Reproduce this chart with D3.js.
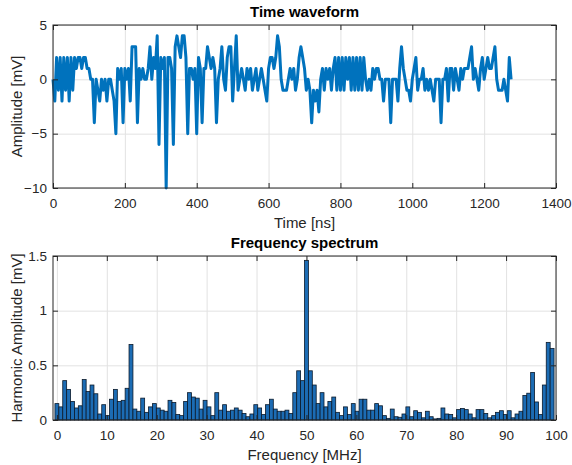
<!DOCTYPE html>
<html>
<head>
<meta charset="utf-8">
<script src="https://cdn.jsdelivr.net/npm/d3@7/dist/d3.min.js"></script>
<style>
  body { margin: 0; background: #fff; }
  svg { font-family: "Liberation Sans", Arial, sans-serif; }
  .axis path { display: none; }
  .axis line { stroke: #262626; }
  .axis text { fill: #262626; font-size: 13.5px; }
  .grid line { stroke: #e2e2e2; }
  .grid path { display: none; }
</style>
</head>
<body>
<svg width="572" height="465"></svg>
<script>
// time waveform, one sample every 5 ns (mV)
var dt = 5;
var samples = [
  0, -2, 2, -1, 2, -2, 2, -1, 2, -2,
  2, -1, 2, 1, 2, 2, 1, 2, 2, 1,
  1, 0, 0, -4, 0, -1, -2, 0, -1, 0,
  -2, 0, 0, -1, -2, -5, 1, 0, 1, -4,
  1, 0, 1, -2, 3, 3, 3, -4, 1, 0,
  1, 0, 0, 1, 3, 0, 2, 1, 4, -6,
  2, 1, 2, -10, 2, 2, 1, -6, 3, 4,
  3, 2, 4, 4, 2, -5, 1, 1, 0, 1,
  -5, 2, 1, -4, 1, 1, 3, 2, 1, 2,
  1, -4, 0, 1, 3, 0, -1, 2, 3, 3,
  -2, 1, 4, -1, 0, 1, 0, -1, 1, 0,
  1, -1, 0, 1, -1, 0, 1, 0, -1, -2,
  1, 2, 2, 1, 2, 4, 3, 0, -1, -1,
  -1, 0, 1, 0, 1, -1, 0, 2, 3, 2,
  1, -1, 0, -1, -4, -1, -2, -1, -3, 0,
  1, -1, 1, 0, 1, -1, 1, 2, -1, 2,
  -1, 2, -1, 2, 0, 2, -1, 2, -1, 2,
  -1, 2, -1, 2, 0, -1, 0, -1, 1, 0,
  1, 1, 0, 0, -2, 0, 0, 0, -4, 0,
  0, 0, -2, 1, 3, 1, 0, -1, -1, -2,
  0, 1, 2, -1, 0, 0, 1, -1, 0, -1,
  0, -1, -2, 0, 0, 0, -4, 0, 0, 1,
  -2, 1, 1, -1, 1, 0, -1, 1, 0, 1,
  1, 1, 2, 3, 0, 1, 0, -1, 1, 2,
  0, 1, 2, 1, 1, 2, 3, 0, -1, -1,
  -1, 0, -1, -2, 2, 0
];

// harmonic amplitudes, one bin every 0.78125 MHz (mV)
var df = 0.78125;
var spectrum = [
  0.15, 0.12, 0.36, 0.28, 0.17, 0.11, 0.13, 0.37, 0.26, 0.32,
  0.24, 0.055, 0.14, 0.04, 0.19, 0.28, 0.17, 0.18, 0.29, 0.69,
  0.10, 0.08, 0.20, 0.07, 0.12, 0.15, 0.11, 0.09, 0.08, 0.18,
  0.16, 0.05, 0.04, 0.17, 0.25, 0.21, 0.20, 0.10, 0.18, 0.12,
  0.04, 0.25, 0.09, 0.14, 0.08, 0.09, 0.11, 0.09, 0.06, 0.03,
  0.055, 0.14, 0.11, 0.05, 0.14, 0.19, 0.10, 0.08, 0.08, 0.09,
  0.06, 0.25, 0.45, 0.36, 1.46, 0.45, 0.32, 0.15, 0.25, 0.12,
  0.17, 0.21, 0.07, 0.04, 0.12, 0.05, 0.15, 0.08, 0.19, 0.19,
  0.09, 0.09, 0.15, 0.13, 0.04, 0.015, 0.10, 0.03, 0.025, 0.055,
  0.12, 0.03, 0.085, 0.07, 0.02, 0.08, 0.03, 0.01, 0.015, 0.11,
  0.055, 0.05, 0.02, 0.095, 0.105, 0.095, 0.055, 0.02, 0.095, 0.095,
  0.06, 0.02, 0.04, 0.07, 0.085, 0.05, 0.085, 0.02, 0.055, 0.08,
  0.225, 0.245, 0.435, 0.165, 0.05, 0.32, 0.71, 0.655
];

var timeTicks = [0, 200, 400, 600, 800, 1000, 1200, 1400];
var ampTicks = [-10, -5, 0, 5];
var freqTicks = [0, 10, 20, 30, 40, 50, 60, 70, 80, 90, 100];
var harmTicks = [0, 0.5, 1, 1.5];

var svg = d3.select('svg');
var left = 53, right = 556;

function panel(x, y, xTicks, yTicks, title, xLabel, yLabel) {
  var top = y.range()[1], bottom = y.range()[0];
  var g = svg.append('g');

  g.append('g').attr('class', 'grid')
    .attr('transform', `translate(0,${bottom})`)
    .call(d3.axisBottom(x).tickValues(xTicks).tickSize(-(bottom - top)).tickFormat(''));
  g.append('g').attr('class', 'grid')
    .attr('transform', `translate(${left},0)`)
    .call(d3.axisLeft(y).tickValues(yTicks).tickSize(-(right - left)).tickFormat(''));

  var plot = g.append('g');

  g.append('g').attr('class', 'axis')
    .attr('transform', `translate(0,${bottom})`)
    .call(d3.axisBottom(x).tickValues(xTicks).tickSizeInner(-5).tickSizeOuter(0).tickPadding(10).tickFormat(d3.format('')));
  g.append('g').attr('class', 'axis')
    .attr('transform', `translate(0,${top})`)
    .call(d3.axisTop(x).tickValues(xTicks).tickSizeInner(-5).tickSizeOuter(0).tickFormat(''));
  g.append('g').attr('class', 'axis')
    .attr('transform', `translate(${left},0)`)
    .call(d3.axisLeft(y).tickValues(yTicks).tickSizeInner(-5).tickSizeOuter(0).tickPadding(6).tickFormat(d3.format('')));
  g.append('g').attr('class', 'axis')
    .attr('transform', `translate(${right},0)`)
    .call(d3.axisRight(y).tickValues(yTicks).tickSizeInner(-5).tickSizeOuter(0).tickFormat(''));

  g.append('rect')
    .attr('x', left).attr('y', top)
    .attr('width', right - left).attr('height', bottom - top)
    .attr('fill', 'none').attr('stroke', '#262626').attr('stroke-width', 1);

  g.append('text')
    .attr('x', (left + right) / 2).attr('y', top - 8)
    .attr('text-anchor', 'middle')
    .attr('font-size', 15).attr('font-weight', 'bold').attr('fill', '#000')
    .text(title);
  g.append('text')
    .attr('x', (left + right) / 2).attr('y', bottom + 40)
    .attr('text-anchor', 'middle')
    .attr('font-size', 15).attr('fill', '#262626')
    .text(xLabel);
  g.append('text')
    .attr('transform', `translate(22,${(top + bottom) / 2}) rotate(-90)`)
    .attr('text-anchor', 'middle')
    .attr('font-size', 15).attr('fill', '#262626')
    .text(yLabel);

  return plot;
}

// top: time waveform
var xt = d3.scaleLinear().domain([0, 1400]).range([left, right]);
var yt = d3.scaleLinear().domain([-10, 5]).range([188, 25]);
var p1 = panel(xt, yt, timeTicks, ampTicks, 'Time waveform', 'Time [ns]', 'Amplitude [mV]');

p1.append('path')
  .datum(samples)
  .attr('fill', 'none')
  .attr('stroke', '#0072BD')
  .attr('stroke-width', 3)
  .attr('stroke-linejoin', 'round')
  .attr('d', d3.line().x((d, i) => xt(i * dt)).y(d => yt(d)));

// bottom: frequency spectrum
var xf = d3.scaleLinear().domain([-df, 100]).range([left, right]);
var yf = d3.scaleLinear().domain([0, 1.5]).range([420, 256]);
var p2 = panel(xf, yf, freqTicks, harmTicks, 'Frequency spectrum', 'Frequency [MHz]', 'Harmonic Amplitude [mV]');

var bw = xf(df) - xf(0);
p2.selectAll('rect')
  .data(spectrum)
  .enter()
  .append('rect')
  .attr('x', (d, i) => xf(i * df) - bw / 2)
  .attr('width', bw)
  .attr('y', d => yf(d))
  .attr('height', d => yf(0) - yf(d))
  .attr('fill', '#1c6cb4')
  .attr('stroke', '#0b1a2b')
  .attr('stroke-width', 0.8);
</script>
</body>
</html>
